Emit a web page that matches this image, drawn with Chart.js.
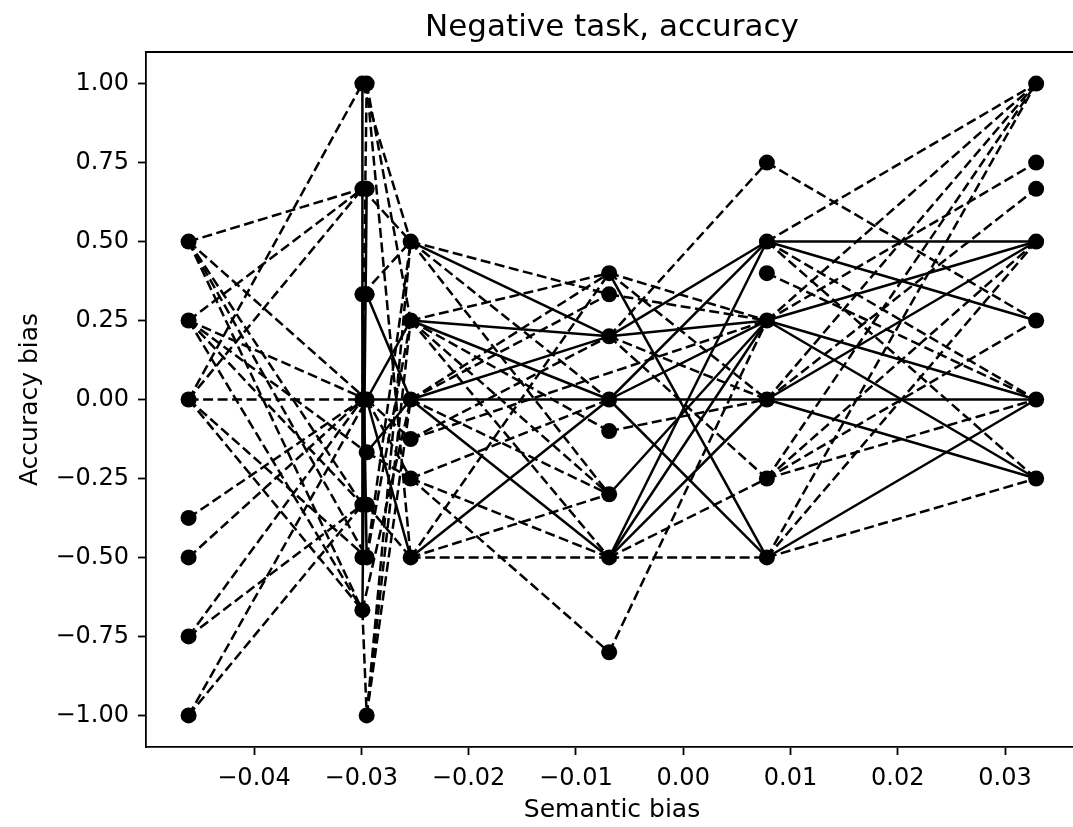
<!DOCTYPE html>
<html>
<head>
<meta charset="utf-8">
<script src="https://cdn.jsdelivr.net/npm/chart.js@4.4.0/dist/chart.umd.min.js"></script>
<style>
    html, body { margin: 0; padding: 0; background: #fff; overflow: hidden; }
    #wrap { width: 1090px; height: 827px; overflow: hidden; }
    #grafico { width: 1090px; height: 827px; display: block; }
</style>
</head>
<body>
<div id="wrap"><canvas id="grafico" width="1090" height="827"></canvas></div>
<script>
// semantic bias of each column of points (c2 has two very close values)
const colX = [-0.0461, -0.0299, -0.0295, -0.0254, -0.0069, 0.0078, 0.0329];

const xTicks = [-0.04, -0.03, -0.02, -0.01, 0.00, 0.01, 0.02, 0.03];
const yTicks = [-1.00, -0.75, -0.50, -0.25, 0.00, 0.25, 0.50, 0.75, 1.00];

const titulo = "Negative task, accuracy";

// [column from, accuracy from, column to, accuracy to]
const dashedSegs = [
    [0, 0.5, 1, 0.667], [0, 0.5, 2, 0], [0, 0.5, 1, -0.333], [0, 0.5, 2, -0.5], [0, 0.5, 1, -0.667],
    [0, 0.25, 1, 0.667], [0, 0.25, 2, 0], [0, 0.25, 2, -0.167], [0, 0.25, 1, -0.333], [0, 0.25, 1, -0.667],
    [0, 0, 1, 1], [0, 0, 1, 0.667], [0, 0, 1, 0], [0, 0, 2, -0.5], [0, 0, 1, -0.667],
    [0, -0.375, 1, 0], [0, -0.5, 1, 0], [0, -0.75, 1, -0.333], [0, -0.75, 1, 0],
    [0, -1, 1, -0.333], [0, -1, 2, 0],
    [2, 1, 1, 0], [1, -0.667, 2, -1],
    [1, 1, 3, 0.5], [2, 1, 3, 0.25], [2, 1, 3, -0.5], [1, 0.667, 3, 0.5], [1, 0.333, 3, 0.5],
    [2, -0.5, 3, 0.5], [2, -0.5, 3, 0.25], [2, -1, 3, 0.5], [2, -1, 3, 0.25], [2, -1, 3, 0],
    [1, -0.667, 3, 0], [2, 0, 3, -0.125], [2, 0, 3, -0.25], [2, -0.333, 3, -0.5], [2, -0.167, 3, -0.25],
    [3, 0.5, 4, 0.333], [3, 0.5, 4, 0], [3, 0.5, 4, -0.3],
    [3, 0.25, 4, 0.4], [3, 0.25, 4, -0.1], [3, 0.25, 4, -0.3], [3, 0.25, 4, -0.5],
    [3, 0, 4, 0.4], [3, 0, 4, 0.333], [3, 0, 4, -0.3],
    [3, -0.125, 4, 0.2], [3, -0.125, 5, 0.25],
    [3, -0.25, 4, 0], [3, -0.25, 4, -0.5], [3, -0.25, 4, -0.8],
    [3, -0.5, 4, 0.4], [3, -0.5, 4, -0.3], [3, -0.5, 4, -0.5],
    [4, 0.4, 5, 0.25], [4, 0.4, 5, 0], [4, 0.333, 5, 0.25],
    [4, 0.2, 5, 0.75], [4, 0.2, 5, 0], [4, 0.2, 5, -0.25],
    [4, -0.1, 5, 0], [4, -0.5, 5, -0.25], [4, -0.5, 5, -0.5], [4, -0.8, 5, 0.25],
    [5, 0.75, 6, 0.25], [5, 0.5, 6, 1], [5, 0.5, 6, 0], [5, 0.5, 6, -0.25], [5, 0.4, 6, 0],
    [5, 0.25, 6, 1], [5, 0.25, 6, 0.75], [5, 0, 6, 1], [5, 0, 6, 0.667],
    [5, -0.25, 6, 1], [5, -0.25, 6, 0.5], [5, -0.25, 6, 0], [5, -0.25, 6, 0.25],
    [5, -0.5, 6, 1], [5, -0.5, 6, 0.5], [5, -0.5, 6, -0.25]
];

const solidSegs = [
    [1, 1, 1, -0.5], [2, 0.667, 1, -0.667], [1, 0.333, 2, -0.5],
    [2, 0.333, 3, 0], [2, 0, 3, 0.25], [2, 0, 3, 0], [2, 0, 3, -0.5], [2, -0.167, 3, 0],
    [3, 0.5, 4, 0.2], [3, 0.25, 4, 0.2], [3, 0.25, 4, 0], [3, 0, 4, 0.2], [3, 0, 4, 0],
    [3, 0, 4, -0.5], [3, -0.5, 4, 0],
    [4, 0.4, 5, -0.5], [4, 0.2, 5, 0.5], [4, 0.2, 5, 0.25], [4, 0, 5, 0.5], [4, 0, 5, 0.25],
    [4, 0, 5, 0], [4, 0, 5, -0.5], [4, -0.3, 5, 0.25], [4, -0.5, 5, 0.5], [4, -0.5, 5, 0.25], [4, -0.5, 5, 0],
    [5, 0.5, 6, 0.5], [5, 0.5, 6, 0.25], [5, 0.25, 6, 0.5], [5, 0.25, 6, 0], [5, 0.25, 6, -0.25],
    [5, 0, 6, 0.5], [5, 0, 6, 0], [5, 0, 6, -0.25], [5, -0.5, 6, 0]
];

function fmt(v) {
    return v.toFixed(2).replace("-", "\u2212");
}

function segmento(s, tracejado) {
    return {
        data: [{ x: colX[s[0]], y: s[1] }, { x: colX[s[2]], y: s[3] }],
        showLine: true,
        borderColor: "#000",
        borderWidth: 2.5,
        borderDash: tracejado ? [10, 4.5] : [],
        pointRadius: 0,
        order: 1
    };
}

const datasets = [];
const pontos = [];
const vistos = {};

for (let i = 0; i < dashedSegs.length; i++) {
    datasets.push(segmento(dashedSegs[i], true));
}
for (let i = 0; i < solidSegs.length; i++) {
    datasets.push(segmento(solidSegs[i], false));
}

const todos = dashedSegs.concat(solidSegs);
for (let i = 0; i < todos.length; i++) {
    const s = todos[i];
    const extremos = [[s[0], s[1]], [s[2], s[3]]];
    for (let j = 0; j < 2; j++) {
        const chave = extremos[j][0] + "_" + extremos[j][1];
        if (!vistos[chave]) {
            vistos[chave] = true;
            pontos.push({ x: colX[extremos[j][0]], y: extremos[j][1] });
        }
    }
}

datasets.push({
    data: pontos,
    showLine: false,
    pointRadius: 8,
    pointBackgroundColor: "#000",
    pointBorderColor: "#000",
    pointBorderWidth: 0,
    order: 0
});

// top spine + title centred over the axes, like matplotlib
const moldura = {
    id: "moldura",
    afterDraw(chart) {
        const a = chart.chartArea;
        const ctx = chart.ctx;
        ctx.save();
        ctx.strokeStyle = "#000";
        ctx.lineWidth = 1.8;
        ctx.beginPath();
        ctx.moveTo(a.left, a.top);
        ctx.lineTo(chart.width, a.top);
        ctx.stroke();

        ctx.fillStyle = "#000";
        ctx.font = "31px 'DejaVu Sans', sans-serif";
        ctx.textAlign = "center";
        ctx.textBaseline = "middle";
        ctx.fillText(titulo, (a.left + a.right) / 2, 28);
        ctx.restore();
    }
};

Chart.defaults.font.family = "'DejaVu Sans', sans-serif";
Chart.defaults.color = "#000";

new Chart(document.getElementById("grafico"), {
    type: "scatter",
    data: { datasets },
    plugins: [moldura],
    options: {
        responsive: false,
        animation: false,
        events: [],
        layout: { padding: { left: 0, right: 12, top: 52, bottom: 0 } },
        plugins: {
            legend: { display: false },
            tooltip: { enabled: false },
            title: { display: false }
        },
        scales: {
            x: {
                type: "linear",
                min: -0.05007,
                max: 0.0368,
                afterBuildTicks: (scale) => { scale.ticks = xTicks.map(v => ({ value: v })); },
                afterFit: (scale) => { scale.height = 80; },
                ticks: { callback: (v) => fmt(v), font: { size: 24 }, color: "#000", padding: 9, maxRotation: 0 },
                grid: { drawOnChartArea: false, drawTicks: true, tickLength: 8, tickColor: "#000", tickWidth: 1.8 },
                border: { display: true, color: "#000", width: 1.8 },
                title: { display: true, text: "Semantic bias", color: "#000", font: { size: 25 }, padding: { top: 0, bottom: 2 } }
            },
            y: {
                type: "linear",
                min: -1.1,
                max: 1.1,
                afterBuildTicks: (scale) => { scale.ticks = yTicks.map(v => ({ value: v })); },
                afterFit: (scale) => { scale.width = 146; },
                ticks: { callback: (v) => fmt(v), font: { size: 24 }, color: "#000", padding: 9 },
                grid: { drawOnChartArea: false, drawTicks: true, tickLength: 8, tickColor: "#000", tickWidth: 1.8 },
                border: { display: true, color: "#000", width: 1.8 },
                title: { display: true, text: "Accuracy bias", color: "#000", font: { size: 25 }, padding: { top: 15, bottom: 0 } }
            }
        }
    }
});
</script>
</body>
</html>
